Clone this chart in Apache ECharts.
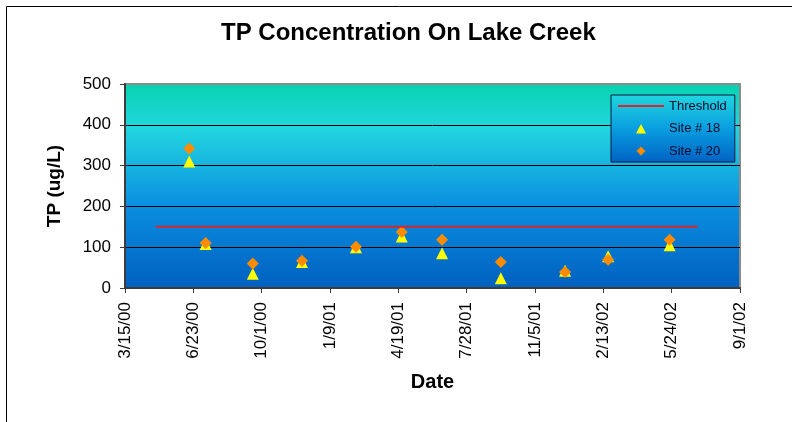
<!DOCTYPE html>
<html>
<head>
<meta charset="utf-8">
<title>TP Concentration On Lake Creek</title>
<script src="https://cdn.jsdelivr.net/npm/echarts@6/dist/echarts.min.js"></script>
<style>
  html, body { margin: 0; padding: 0; background: #fff; }
  #chart { width: 792px; height: 422px; }
</style>
</head>
<body>
<div id="chart"></div>
<script>
// sampling dates (m/d/yy) and TP readings in ug/L
const sampleDates = ['6/17/00', '7/11/00', '9/18/00', '11/29/00', '2/16/01', '4/24/01',
  '6/22/01', '9/16/01', '12/19/01', '2/20/02', '5/21/02']
const site18 = [310, 108, 35, 64, 100, 126, 85, 24, 42, 78, 105]
const site20 = [342, 110, 60, 67, 101, 137, 118, 64, 39, 69, 118]
const thresholdDates = ['4/29/00', '7/1/02']
const thresholdValues = [150, 150]

// x axis runs 3/15/00 .. 9/1/02 in 100 day steps, y axis 0..500
const xStart = '3/15/00'
const xEnd = '9/1/02'
const xStepDays = 100
const yTicks = [0, 100, 200, 300, 400, 500]

const FONT = 'Arial, "Liberation Sans", sans-serif'
const EPOCH = Date.UTC(1899, 11, 30)
const DAY = 86400000

// legend icons padded out to the full 46x10 item box so they keep their shape
const ICON_TRIANGLE = 'path://M0,0 M46,10 M18,10 L23,0.5 L28,10 Z'
const ICON_DIAMOND = 'path://M0,0 M46,10 M23,0.5 L27.5,5 L23,9.5 L18.5,5 Z'

// m/d/yy -> spreadsheet day number
function toSerial(s) {
  const [m, d, y] = s.split('/').map(Number)
  return Math.round((Date.UTC(2000 + y, m - 1, d) - EPOCH) / DAY)
}
function fromSerial(v) {
  const dt = new Date(EPOCH + v * DAY)
  const yy = String(dt.getUTCFullYear() % 100).padStart(2, '0')
  return (dt.getUTCMonth() + 1) + '/' + dt.getUTCDate() + '/' + yy
}

const pairs = (dates, vals) => dates.map((d, i) => [toSerial(d), vals[i]])

function initChart() {
  const chart = echarts.init(document.getElementById('chart'), null, { renderer: 'canvas' })

  chart.setOption({
    animation: false,
    backgroundColor: '#fff',
    textStyle: { fontFamily: FONT },
    title: {
      text: 'TP Concentration On Lake Creek',
      left: 221,
      top: 21,
      padding: 0,
      textStyle: { fontSize: 24, fontWeight: 'bold', color: '#000', fontFamily: FONT }
    },
    graphic: [
      {
        type: 'rect',
        shape: { x: 6.5, y: 6.5, width: 820, height: 440 },
        style: { fill: null, stroke: '#000', lineWidth: 1 },
        silent: true,
        z: -1
      }
    ],
    legend: {
      orient: 'vertical',
      left: 611,
      top: 95,
      padding: [4, 8, 4, 6],
      itemWidth: 46,
      itemHeight: 10,
      itemGap: 8.5,
      backgroundColor: new echarts.graphic.LinearGradient(0, 0, 0, 1, [
        { offset: 0, color: '#20d6de' },
        { offset: 0.5, color: '#0a9ee0' },
        { offset: 1, color: '#0062c4' }
      ]),
      borderColor: '#14143c',
      borderWidth: 1,
      borderRadius: 0,
      textStyle: { fontSize: 13, lineHeight: 14, color: '#0a0a2a', fontFamily: FONT },
      data: [
        { name: 'Threshold', itemStyle: { color: 'rgba(0,0,0,0)', borderWidth: 0 } },
        { name: 'Site # 18', icon: ICON_TRIANGLE },
        { name: 'Site # 20', icon: ICON_DIAMOND }
      ]
    },
    grid: {
      left: 125,
      right: 52,
      top: 84,
      bottom: 134,
      show: true,
      borderColor: '#8a8a8a',
      borderWidth: 2,
      backgroundColor: new echarts.graphic.LinearGradient(0, 0, 0, 1, [
        { offset: 0, color: '#06d3ae' },
        { offset: 0.22, color: '#22d6e0' },
        { offset: 0.6, color: '#0a8ee0' },
        { offset: 1, color: '#005fbf' }
      ])
    },
    xAxis: {
      type: 'value',
      min: toSerial(xStart),
      max: toSerial(xEnd),
      interval: xStepDays,
      name: 'Date',
      nameLocation: 'middle',
      nameGap: 84,
      nameTextStyle: { fontSize: 20, fontWeight: 'bold', color: '#000', fontFamily: FONT },
      axisLine: { lineStyle: { color: '#3c3c3c', width: 2 } },
      axisTick: { show: true, length: 5, lineStyle: { color: '#3c3c3c', width: 1 } },
      axisLabel: {
        rotate: 90,
        margin: 14,
        fontSize: 17,
        color: '#000',
        fontFamily: FONT,
        formatter: fromSerial
      },
      splitLine: { show: false }
    },
    yAxis: {
      type: 'value',
      min: yTicks[0],
      max: yTicks[yTicks.length - 1],
      interval: yTicks[1] - yTicks[0],
      name: 'TP (ug/L)',
      nameLocation: 'middle',
      nameGap: 61,
      nameTextStyle: { fontSize: 19, fontWeight: 'bold', color: '#000', fontFamily: FONT },
      axisLine: { show: true, lineStyle: { color: '#3c3c3c', width: 2 } },
      axisTick: { show: true, length: 5, lineStyle: { color: '#3c3c3c', width: 1 } },
      axisLabel: { margin: 14, fontSize: 17, color: '#000', fontFamily: FONT },
      splitLine: { show: true, showMaxLine: false, lineStyle: { color: '#000', width: 1 } }
    },
    series: [
      {
        name: 'Threshold',
        type: 'line',
        symbol: 'none',
        data: pairs(thresholdDates, thresholdValues),
        lineStyle: { color: '#d9262b', width: 2 },
        itemStyle: { color: '#d9262b' }
      },
      {
        name: 'Site # 18',
        type: 'scatter',
        symbol: 'triangle',
        symbolSize: 12,
        data: pairs(sampleDates, site18),
        itemStyle: { color: '#ffff00', opacity: 1 }
      },
      {
        name: 'Site # 20',
        type: 'scatter',
        symbol: 'diamond',
        symbolSize: 12,
        data: pairs(sampleDates, site20),
        itemStyle: { color: '#ff8c00', opacity: 1 }
      }
    ]
  })
}

initChart()
</script>
</body>
</html>
